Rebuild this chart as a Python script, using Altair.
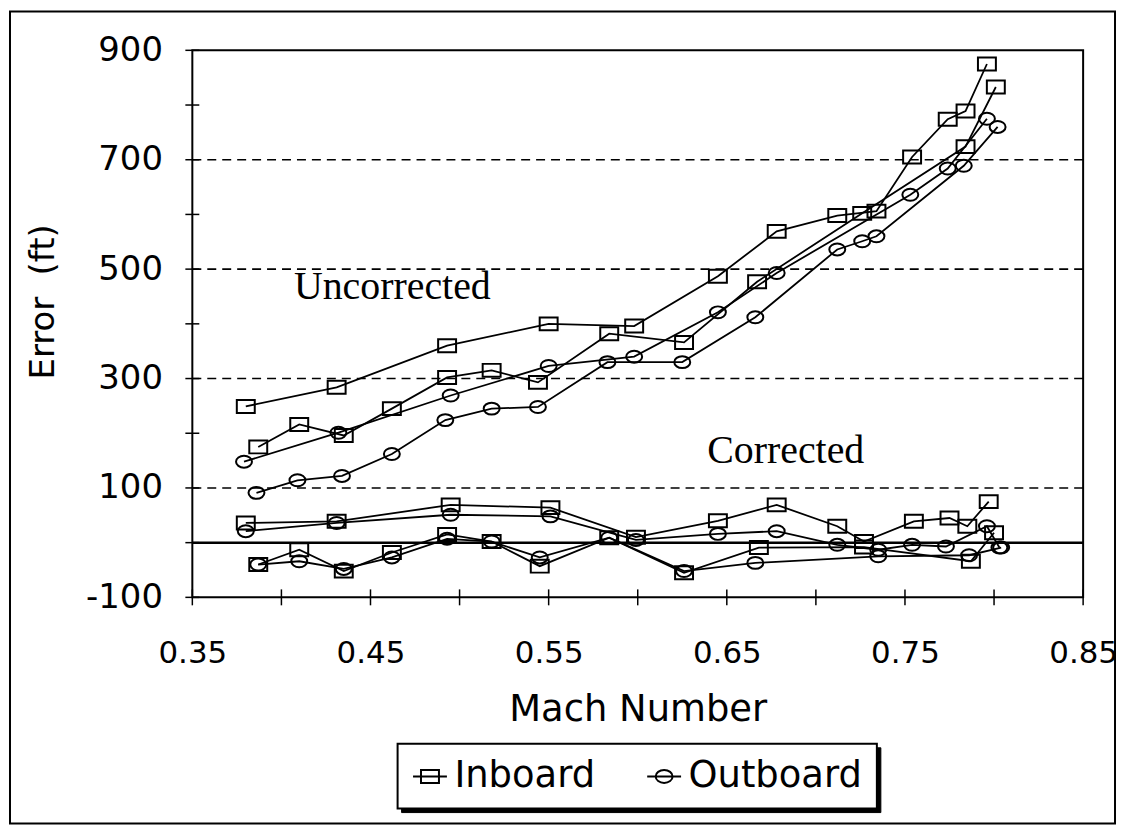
import altair as alt
import pandas as pd

# ---------------- data ----------------
in_unc_a_mach = [0.380, 0.431, 0.493, 0.550, 0.598, 0.645, 0.678, 0.712, 0.734, 0.754, 0.774, 0.784, 0.796]
in_unc_a_err = [249, 284, 360, 400, 396, 487, 569, 598, 606, 705, 774, 789, 875]
in_unc_b_mach = [0.387, 0.410, 0.435, 0.462, 0.493, 0.518, 0.544, 0.584, 0.626, 0.667, 0.726, 0.784, 0.801]
in_unc_b_err = [175, 216, 196, 245, 302, 315, 293, 382, 366, 477, 602, 724, 833]
out_unc_a_mach = [0.379, 0.432, 0.495, 0.550, 0.598, 0.645, 0.678, 0.753, 0.774, 0.796]
out_unc_a_err = [148, 201, 269, 323, 340, 421, 493, 636, 684, 775]
out_unc_b_mach = [0.386, 0.409, 0.434, 0.462, 0.492, 0.518, 0.544, 0.583, 0.625, 0.666, 0.712, 0.726, 0.734, 0.783, 0.802]
out_unc_b_err = [91, 114, 122, 162, 224, 245, 248, 330, 330, 412, 536, 551, 560, 689, 760]

in_cor_a_mach = [0.380, 0.431, 0.495, 0.551, 0.599, 0.645, 0.678, 0.712, 0.727, 0.755, 0.775, 0.785, 0.797]
in_cor_a_err = [36, 39, 69, 64, 10, 40, 69, 30, 2, 39, 45, 30, 75]
out_cor_a_mach = [0.380, 0.431, 0.495, 0.551, 0.599, 0.645, 0.678, 0.712, 0.735, 0.754, 0.773, 0.796, 0.803]
out_cor_a_err = [21, 36, 51, 48, 5, 16, 21, -4, -13, -4, -7, 30, -9]
in_cor_b_mach = [0.387, 0.410, 0.435, 0.462, 0.493, 0.518, 0.545, 0.584, 0.626, 0.668, 0.727, 0.787, 0.800]
in_cor_b_err = [-40, -13, -52, -18, 15, 2, -43, 9, -55, -9, -8, -34, 18]
out_cor_b_mach = [0.387, 0.410, 0.435, 0.462, 0.493, 0.518, 0.545, 0.584, 0.626, 0.666, 0.735, 0.786, 0.804]
out_cor_b_err = [-40, -34, -48, -27, 7, 2, -27, 9, -52, -37, -25, -23, -9]

sensors = ["Inboard", "Outboard"]

y_tick_values = [-100, 0, 100, 200, 300, 400, 500, 600, 700, 800, 900]
y_label_values = [-100, 100, 300, 500, 700, 900]
grid_values = [100, 300, 500, 700]
zero_value = [0]
x_tick_values = [0.35, 0.40, 0.45, 0.50, 0.55, 0.60, 0.65, 0.70, 0.75, 0.80, 0.85]
x_label_values = [0.35, 0.45, 0.55, 0.65, 0.75, 0.85]

ann_text = ["Uncorrected", "Corrected"]
ann_mach = [0.407, 0.639]
ann_err = [445, 145]

# ---------------- tables ----------------
series = [
    ("in_unc_a", "Inboard", in_unc_a_mach, in_unc_a_err),
    ("in_unc_b", "Inboard", in_unc_b_mach, in_unc_b_err),
    ("out_unc_a", "Outboard", out_unc_a_mach, out_unc_a_err),
    ("out_unc_b", "Outboard", out_unc_b_mach, out_unc_b_err),
    ("in_cor_a", "Inboard", in_cor_a_mach, in_cor_a_err),
    ("in_cor_b", "Inboard", in_cor_b_mach, in_cor_b_err),
    ("out_cor_a", "Outboard", out_cor_a_mach, out_cor_a_err),
    ("out_cor_b", "Outboard", out_cor_b_mach, out_cor_b_err),
]
rows = []
for sid, sensor, ms, es in series:
    for m, e in zip(ms, es):
        rows.append({"series": sid, "sensor": sensor, "mach": m, "err": e})
df = pd.DataFrame(rows)

W, H = 894, 549
SANS = "DejaVu Sans"
SERIF = "Liberation Serif"

xs = alt.Scale(domain=[0.35, 0.85], nice=False, zero=False)
ys = alt.Scale(domain=[-100, 900], nice=False, zero=False)

x_axis = alt.Axis(values=x_label_values, format=".2f", ticks=False, domain=False, grid=False,
                  labelFont=SANS, labelFontSize=31, labelColor="black", labelPadding=41,
                  labelFlush=False, labelOverlap=False, labelBaseline="top", labelBound=False,
                  title="Mach Number", titleFont=SANS, titleFontSize=37, titleFontWeight="normal",
                  titleColor="black", titleY=124, titleBaseline="alphabetic")
y_axis = alt.Axis(values=y_label_values, ticks=False, domain=False, grid=False,
                  labelExpr="'' + datum.value",
                  labelFont=SANS, labelFontSize=34, labelColor="black", labelPadding=30,
                  labelOverlap=False, labelFlush=False,
                  title="Error\u00a0\u00a0(ft)", titleFont=SANS, titleFontSize=34, titleFontWeight="normal",
                  titleColor="black", titleAngle=270, titleX=-149, titleY=252,
                  titleAlign="center", titleBaseline="middle")

X = alt.X("mach:Q", scale=xs, axis=x_axis)
Y = alt.Y("err:Q", scale=ys, axis=y_axis)

one = pd.DataFrame({"k": [1]})

frame = alt.Chart(one).mark_rect(fill="white", fillOpacity=0, stroke="black", strokeWidth=2).encode(
    x=alt.value(-183), x2=alt.value(926), y=alt.value(-39), y2=alt.value(776))

leg_shadow = alt.Chart(one).mark_rect(fill="black", stroke="black").encode(
    x=alt.value(210), x2=alt.value(691), y=alt.value(700), y2=alt.value(765))
leg_box = alt.Chart(one).mark_rect(fill="white", stroke="black", strokeWidth=2).encode(
    x=alt.value(206), x2=alt.value(687), y=alt.value(696), y2=alt.value(761))

grid = alt.Chart(pd.DataFrame({"err": grid_values})).mark_rule(
    color="black", strokeWidth=1.6, strokeDash=[9, 6]).encode(y=Y)
zero = alt.Chart(pd.DataFrame({"err": zero_value})).mark_rule(
    color="black", strokeWidth=2.5).encode(y=Y)
yticks = alt.Chart(pd.DataFrame({"err": y_tick_values})).mark_rule(
    color="black", strokeWidth=1.5).encode(y=Y, x=alt.value(-7), x2=alt.value(7))
xticks = alt.Chart(pd.DataFrame({"mach": x_tick_values})).mark_rule(
    color="black", strokeWidth=1.5).encode(x=X, y=alt.value(H - 8), y2=alt.value(H + 8))

lines = alt.Chart(df).mark_line(color="black", strokeWidth=1.8).encode(
    x=X, y=Y, detail="series:N")

rect_path = "M-1,-0.72H1V0.72H-1Z"
ell_path = "M-1,0A1,0.75,0,1,1,1,0A1,0.75,0,1,1,-1,0Z"

pts_in = alt.Chart(df).transform_filter(alt.datum.sensor == "Inboard").mark_point(
    shape=rect_path, size=324, filled=False, color="black", strokeWidth=2, opacity=1).encode(x=X, y=Y)
pts_out = alt.Chart(df).transform_filter(alt.datum.sensor == "Outboard").mark_point(
    shape=ell_path, size=256, filled=False, color="black", strokeWidth=2, opacity=1).encode(x=X, y=Y)

ann = alt.Chart(pd.DataFrame({"label": ann_text, "mach": ann_mach, "err": ann_err})).mark_text(
    font=SERIF, fontSize=40, align="left", baseline="alphabetic", color="black").encode(
    x=X, y=Y, text="label:N")

leg_in = "M-1,0H1M-0.53,-0.38H0.53V0.38H-0.53Z"
leg_out = "M-1,0H1M-0.5,0A0.5,0.38,0,1,1,0.5,0A0.5,0.38,0,1,1,-0.5,0Z"
legend_layer = alt.Chart(pd.DataFrame({"sensor": sensors})).mark_point(
    filled=False, color="black", strokeWidth=2).encode(
    x=alt.value(-3000), y=alt.value(-3000),
    shape=alt.Shape("sensor:N", scale=alt.Scale(domain=sensors, range=[leg_in, leg_out]),
                    legend=alt.Legend(title=None, orient="none", legendX=206, legendY=696,
                                      direction="horizontal", padding=14, symbolSize=1156,
                                      symbolStrokeWidth=2, symbolStrokeColor="black",
                                      symbolFillColor="transparent", symbolOpacity=1,
                                      labelFont=SANS, labelFontSize=37, labelColor="black",
                                      labelOffset=6, columnPadding=47, labelLimit=400)))

chart = alt.layer(
    frame, leg_shadow, leg_box, grid, zero, yticks, xticks, lines, pts_in, pts_out, ann, legend_layer
).properties(
    width=W, height=H,
    padding={"left": 185, "top": 41, "right": 35, "bottom": 229},
    autosize=alt.AutoSizeParams(type="none"),
    background="white",
).configure_view(stroke="black", strokeWidth=2)

chart.save("out.html", embed_options={"renderer": "svg", "actions": False})
